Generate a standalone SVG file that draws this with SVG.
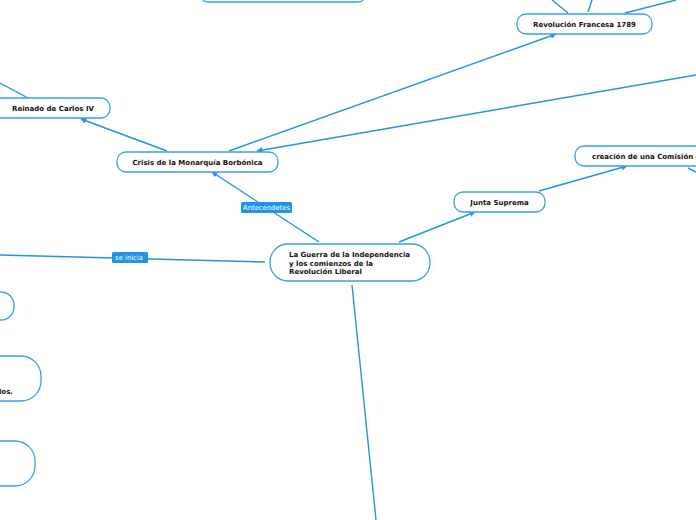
<svg xmlns="http://www.w3.org/2000/svg" width="696" height="520" viewBox="0 0 696 520">
<defs>
<style>
.node{fill:#fff;stroke:#3aa0ea;stroke-width:1.3}
.t{font-family:"DejaVu Sans",Verdana,sans-serif;font-weight:bold;font-size:7px;fill:#111}
.c{fill:none;stroke:#1f95e3;stroke-width:1.4}
.lb{fill:#1f95e3}
.lt{font-family:"DejaVu Sans",Verdana,sans-serif;font-size:6.8px;fill:#fff}
</style>
<marker id="ah" viewBox="0 0 10 10" refX="9" refY="5" markerWidth="6" markerHeight="6" orient="auto" markerUnits="userSpaceOnUse">
<path d="M0,0 L10,5 L0,10 z" fill="#1f95e3"/>
</marker>
</defs>
<rect width="696" height="520" fill="#fff"/>
<g id="connectors">
<line class="c" x1="568" y1="13" x2="552" y2="0"/>
<line class="c" x1="588" y1="12" x2="592" y2="0"/>
<line class="c" x1="625" y1="13" x2="676" y2="0"/>
<line class="c" x1="28" y1="98" x2="0" y2="83"/>
<line class="c" x1="167" y1="151" x2="81" y2="119" marker-end="url(#ah)"/>
<line class="c" x1="229" y1="151" x2="556" y2="34" marker-end="url(#ah)"/>
<line class="c" x1="696" y1="75" x2="257" y2="151" marker-end="url(#ah)"/>
<line class="c" x1="319" y1="242" x2="212" y2="172" marker-end="url(#ah)"/>
<line class="c" x1="265" y1="262" x2="0" y2="255"/>
<line class="c" x1="399" y1="242" x2="475" y2="212" marker-end="url(#ah)"/>
<line class="c" x1="539" y1="191" x2="627" y2="166" marker-end="url(#ah)"/>
<line class="c" x1="688" y1="168" x2="696" y2="172"/>
<line class="c" x1="352" y1="285" x2="376" y2="520"/>
<rect class="lb" x="241" y="202" width="51" height="11" rx="1.5"/>
<text class="lt" x="266.5" y="210" text-anchor="middle">Antecendetes</text>
<rect class="lb" x="112" y="252" width="36" height="11" rx="1.5"/>
<text class="lt" x="129" y="260" text-anchor="middle">se inicia</text>
</g>
<g id="n-top"><rect class="node" x="200" y="-20" width="166" height="22" rx="8"/></g>
<g id="n-revolucion"><rect class="node" x="517" y="14" width="135" height="20" rx="9"/><text class="t" x="584.5" y="26.5" text-anchor="middle">Revolución Francesa 1789</text></g>
<g id="n-reinado"><rect class="node" x="-12" y="98" width="122" height="20" rx="9"/><text class="t" x="53" y="110.5" text-anchor="middle">Reinado de Carlos IV</text></g>
<g id="n-crisis"><rect class="node" x="117" y="152" width="161" height="20" rx="9"/><text class="t" x="197.5" y="164.5" text-anchor="middle">Crisis de la Monarquía Borbónica</text></g>
<g id="n-main"><rect class="node" x="270" y="244" width="160" height="37" rx="18"/>
<text class="t" x="289" y="257">La Guerra de la Independencia</text>
<text class="t" x="289" y="265.5">y los comienzos de la</text>
<text class="t" x="289" y="274">Revolución Liberal</text></g>
<g id="n-junta"><rect class="node" x="454" y="192" width="91" height="20" rx="9"/><text class="t" x="499.5" y="204.5" text-anchor="middle">Junta Suprema</text></g>
<g id="n-creacion"><rect class="node" x="575" y="146" width="150" height="20" rx="9"/><text class="t" x="592" y="158.5">creación de una Comisión de</text></g>
<g id="n-left1"><rect class="node" x="-60" y="292" width="74" height="28" rx="13"/></g>
<g id="n-left2"><rect class="node" x="-90" y="356" width="131" height="45" rx="20"/><text class="t" x="13" y="393.5" text-anchor="end">los.</text></g>
<g id="n-left3"><rect class="node" x="-90" y="441" width="125" height="45" rx="20"/></g>
</svg>
